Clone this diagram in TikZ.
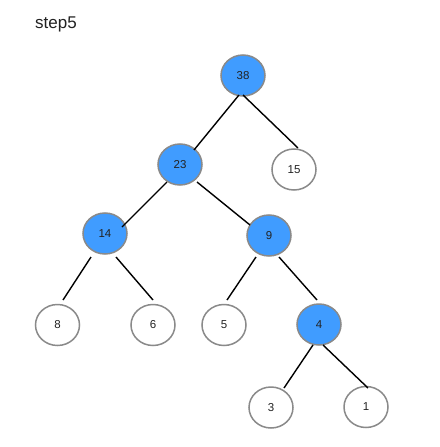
\documentclass[tikz,border=0pt]{standalone}
\usepackage{fontspec}
\setmainfont{Liberation Sans}
\usetikzlibrary{shapes.geometric,calc}
\definecolor{hblue}{HTML}{409CFF}
\definecolor{hgray}{HTML}{8A8A8A}
\definecolor{htext}{HTML}{222222}
\tikzset{
  heapnode/.style={ellipse,draw=hgray,line width=1.5pt,minimum width=44pt,minimum height=41pt,inner sep=0pt,font=\fontsize{11.5}{13}\selectfont,text=htext},
  hot/.style={heapnode,fill=hblue},
  cold/.style={heapnode,fill=white},
  edge/.style={draw=black,line width=1.4pt}
}
\begin{document}
\begin{tikzpicture}[x=1pt,y=-1pt]
\useasboundingbox (0,0) rectangle (439,447);
\fill[white] (0,0) rectangle (439,447);
\node[anchor=base west,inner sep=0pt,font=\fontsize{17}{20}\selectfont,text=htext] (title) at (35,28) {step5};
\node[hot] (n38) at (243,75.5) {38};
\node[hot] (n23) at (180,164.5) {23};
\node[cold] (n15) at (294,169.5) {15};
\node[hot] (n14) at (105,233.5) {14};
\node[hot] (n9) at (269,235.5) {9};
\node[cold] (n8) at (57.5,325) {8};
\node[cold] (n6) at (153,325) {6};
\node[cold] (n5) at (224,325) {5};
\node[hot] (n4) at (319,324.5) {4};
\node[cold] (n3) at (271,407.5) {3};
\node[cold] (n1) at (366,407) {1};
\draw[edge] ($(n38)+(-4,19.5)$) -- ($(n23)+(14,-14.5)$);
\draw[edge] ($(n38)+(0,19.5)$) -- ($(n15)+(4,-21.5)$);
\draw[edge] ($(n23)+(-13,17.5)$) -- ($(n14)+(17,-6.5)$);
\draw[edge] ($(n23)+(17,17.5)$) -- ($(n9)+(-19,-10.5)$);
\draw[edge] ($(n14)+(-14,23.5)$) -- ($(n8)+(5.5,-25)$);
\draw[edge] ($(n14)+(11,23.5)$) -- ($(n6)+(0,-25)$);
\draw[edge] ($(n9)+(-13,21.5)$) -- ($(n5)+(3,-25)$);
\draw[edge] ($(n9)+(10,21.5)$) -- ($(n4)+(-2,-24.5)$);
\draw[edge] ($(n4)+(-6,20.5)$) -- ($(n3)+(13,-19.5)$);
\draw[edge] ($(n4)+(4,20.5)$) -- ($(n1)+(2,-19)$);
\end{tikzpicture}
\end{document}
